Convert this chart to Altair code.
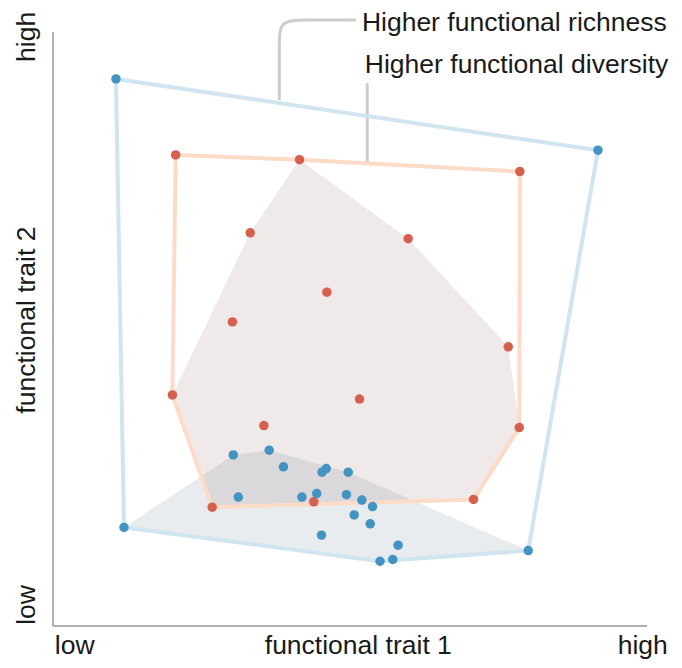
import altair as alt
import pandas as pd

# ---- data (axis units 0..100) ----
blue_core_x = [11.95, 30.35, 36.4, 38.8, 45.3, 46.0, 49.7, 31.2, 41.9, 44.4,
               49.4, 52.0, 53.8, 50.7, 53.4, 45.2, 58.1, 55.05, 57.2, 80.0]
blue_core_y = [16.6, 28.8, 29.6, 26.8, 25.9, 26.5, 25.9, 21.7, 21.7, 22.3,
               22.1, 21.2, 20.1, 18.7, 17.2, 15.3, 13.6, 10.9, 11.2, 12.7]
blue_extra_x = [10.6, 91.75]
blue_extra_y = [92.1, 80.1]

red_core_x = [41.5, 33.2, 59.8, 46.1, 30.2, 76.65, 20.1, 51.6, 35.5, 78.5, 26.8, 43.9, 70.8]
red_core_y = [78.5, 66.2, 65.2, 56.2, 51.2, 47.0, 38.9, 38.2, 33.75, 33.4, 20.0, 20.9, 21.3]
red_extra_x = [20.65, 78.6]
red_extra_y = [79.3, 76.5]

label_richness = "Higher functional richness"
label_diversity = "Higher functional diversity"

# ---- colours ----
BLUE = "#4393c3"
RED = "#d6604d"
BLUE_LIGHT = "#d1e5f0"
RED_LIGHT = "#fddbc7"
TEXT = "#1a1a1a"
FONT = "Liberation Sans"
FS = 26.5


def hull(xs, ys):
    pts = sorted(set(zip(xs, ys)))

    def cross(o, a, b):
        return (a[0] - o[0]) * (b[1] - o[1]) - (a[1] - o[1]) * (b[0] - o[0])

    lower, upper = [], []
    for p in pts:
        while len(lower) >= 2 and cross(lower[-2], lower[-1], p) <= 0:
            lower.pop()
        lower.append(p)
    for p in reversed(pts):
        while len(upper) >= 2 and cross(upper[-2], upper[-1], p) <= 0:
            upper.pop()
        upper.append(p)
    h = lower[:-1] + upper[:-1]
    h = h + [h[0]]
    return pd.DataFrame({"x": [p[0] for p in h], "y": [p[1] for p in h], "i": list(range(len(h)))})


xsc = alt.Scale(domain=[0, 100], nice=False, zero=False)
ysc = alt.Scale(domain=[0, 100], nice=False, zero=False)
X = alt.X("x:Q", scale=xsc, axis=None)
Y = alt.Y("y:Q", scale=ysc, axis=None)

blue_fill_df = hull(blue_core_x, blue_core_y)
red_fill_df = hull(red_core_x, red_core_y)
blue_out_df = hull(blue_core_x + blue_extra_x, blue_core_y + blue_extra_y)
red_out_df = hull(red_core_x + red_extra_x, red_core_y + red_extra_y)

blue_fill = alt.Chart(blue_fill_df).mark_line(
    fill="#668094", fillOpacity=0.15, strokeWidth=0, stroke="#ffffff", strokeOpacity=0
).encode(x=X, y=Y, order="i:Q")
red_fill = alt.Chart(red_fill_df).mark_line(
    fill="#7a4848", fillOpacity=0.12, strokeWidth=0, stroke="#ffffff", strokeOpacity=0
).encode(x=X, y=Y, order="i:Q")

blue_out = alt.Chart(blue_out_df).mark_line(
    stroke=BLUE_LIGHT, strokeWidth=4, strokeJoin="round"
).encode(x=X, y=Y, order="i:Q")
red_out = alt.Chart(red_out_df).mark_line(
    stroke=RED_LIGHT, strokeWidth=4, strokeJoin="round"
).encode(x=X, y=Y, order="i:Q")

red_pts = alt.Chart(pd.DataFrame({"x": red_core_x + red_extra_x, "y": red_core_y + red_extra_y})).mark_circle(
    size=90, color=RED, opacity=1
).encode(x=X, y=Y)
blue_pts = alt.Chart(pd.DataFrame({"x": blue_core_x + blue_extra_x, "y": blue_core_y + blue_extra_y})).mark_circle(
    size=90, color=BLUE, opacity=1
).encode(x=X, y=Y)

# axis lines
axis_df = pd.DataFrame({"x": [0, 0], "y": [0, 0], "x2": [0, 100], "y2": [100, 0]})
axes = alt.Chart(axis_df).mark_rule(color="#b0b0b0", strokeWidth=2).encode(
    x=X, y=Y, x2="x2:Q", y2="y2:Q"
)

# annotation leaders
lead1 = pd.DataFrame({"x": [38.1, 38.1, 38.1, 42.3, 51.0], "y": [88.55, 97.8, 102.0, 102.0, 102.0], "i": [0, 1, 2, 3, 4]})
leader1 = alt.Chart(lead1).mark_line(color="#cccccc", strokeWidth=3, interpolate="basis").encode(
    x=X, y=Y, order="i:Q"
)
lead2 = pd.DataFrame({"x": [52.9, 52.9], "y": [91.4, 77.9], "i": [0, 1]})
leader2 = alt.Chart(lead2).mark_line(color="#cccccc", strokeWidth=3).encode(x=X, y=Y, order="i:Q")

ann_df = pd.DataFrame({"x": [52.0, 52.5], "y": [100.2, 93.1], "t": [label_richness, label_diversity]})
ann = alt.Chart(ann_df).mark_text(
    align="left", baseline="alphabetic", font=FONT, fontSize=FS, color=TEXT
).encode(x=X, y=Y, text="t:N")

# axis labels
def txt(df, **kw):
    return alt.Chart(df).mark_text(baseline="alphabetic", font=FONT, fontSize=FS, color=TEXT, **kw).encode(
        x=X, y=Y, text="t:N"
    )

xl_low = txt(pd.DataFrame({"x": [0.3], "y": [-4.75], "t": ["low"]}), align="left")
xl_mid = txt(pd.DataFrame({"x": [51.4], "y": [-4.75], "t": ["functional trait 1"]}), align="center")
xl_high = txt(pd.DataFrame({"x": [103.5], "y": [-4.75], "t": ["high"]}), align="right")
yl_low = txt(pd.DataFrame({"x": [-3.0], "y": [0.2], "t": ["low"]}), align="left", angle=270)
yl_mid = txt(pd.DataFrame({"x": [-3.0], "y": [51.5], "t": ["functional trait 2"]}), align="center", angle=270)
yl_high = txt(pd.DataFrame({"x": [-3.0], "y": [103.4], "t": ["high"]}), align="right", angle=270)

chart = alt.layer(
    blue_fill, red_fill, axes, leader1, leader2, blue_out, red_out, red_pts, blue_pts,
    ann, xl_low, xl_mid, xl_high, yl_low, yl_mid, yl_high
).properties(
    width=594, height=594,
    autosize=alt.AutoSizeParams(type="none"),
    padding={"left": 45, "top": 24, "right": 22, "bottom": 34},
    background="#ffffff",
).configure_view(strokeWidth=0)

chart.save("out.html", embed_options={"renderer": "svg", "actions": False})
